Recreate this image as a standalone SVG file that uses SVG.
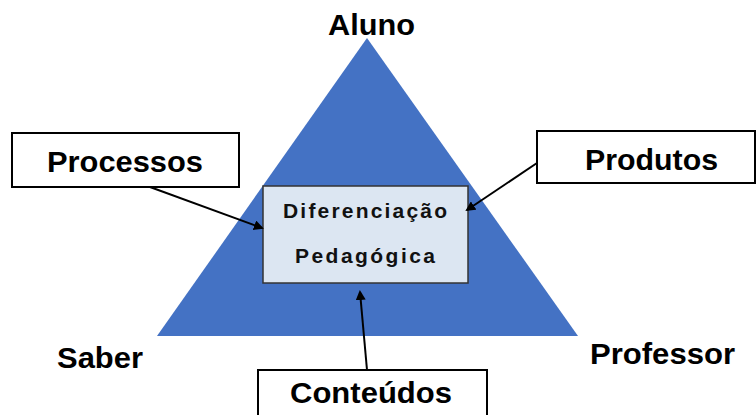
<svg xmlns="http://www.w3.org/2000/svg" width="756" height="415" viewBox="0 0 756 415">
<style>
.lbl{font-family:"Liberation Sans",Arial,sans-serif;font-weight:bold;font-size:29px;fill:#000}
.sm{font-family:"Liberation Sans",Arial,sans-serif;font-weight:bold;font-size:21px;fill:#111}
.box{fill:#fff;stroke:#000;stroke-width:2}
.conn{stroke:#000;stroke-width:2;fill:none;marker-end:url(#ah)}
</style>
<defs>
<marker id="ah" markerWidth="10" markerHeight="10" refX="8" refY="5" orient="auto" markerUnits="userSpaceOnUse">
<path d="M0,0 L10,5 L0,10 z" fill="#000"/>
</marker>
</defs>
<rect width="756" height="415" fill="#fff"/>
<g id="triangle">
<polygon points="367,38 157,336 578,336" fill="#4472c4"/>
</g>
<g id="aluno"><text class="lbl" x="328" y="35" textLength="87" lengthAdjust="spacingAndGlyphs">Aluno</text></g>
<g id="saber"><text class="lbl" x="57" y="368" textLength="86" lengthAdjust="spacingAndGlyphs">Saber</text></g>
<g id="professor"><text class="lbl" x="590" y="364" textLength="145" lengthAdjust="spacingAndGlyphs">Professor</text></g>
<g id="center">
<rect x="263" y="186" width="205" height="97" fill="#dce6f2" stroke="#333" stroke-width="1.5"/>
<text class="sm" x="283" y="218" textLength="164" lengthAdjust="spacing">Diferenciação</text>
<text class="sm" x="295" y="263" textLength="140" lengthAdjust="spacing">Pedagógica</text>
</g>
<g id="processos">
<rect class="box" x="12" y="133" width="227" height="54"/>
<text class="lbl" x="47" y="172" textLength="156" lengthAdjust="spacingAndGlyphs">Processos</text>
</g>
<g id="produtos">
<rect class="box" x="537" y="131" width="218" height="52"/>
<text class="lbl" x="585" y="170" textLength="133" lengthAdjust="spacingAndGlyphs">Produtos</text>
</g>
<g id="conteudos">
<rect class="box" x="258" y="370" width="229" height="60"/>
<text class="lbl" x="290" y="403" textLength="162" lengthAdjust="spacingAndGlyphs">Conteúdos</text>
</g>
<g id="connectors">
<line class="conn" x1="150" y1="187" x2="262" y2="228"/>
<line class="conn" x1="537" y1="163" x2="467" y2="210"/>
<line class="conn" x1="367" y1="370" x2="360" y2="292"/>
</g>
</svg>
